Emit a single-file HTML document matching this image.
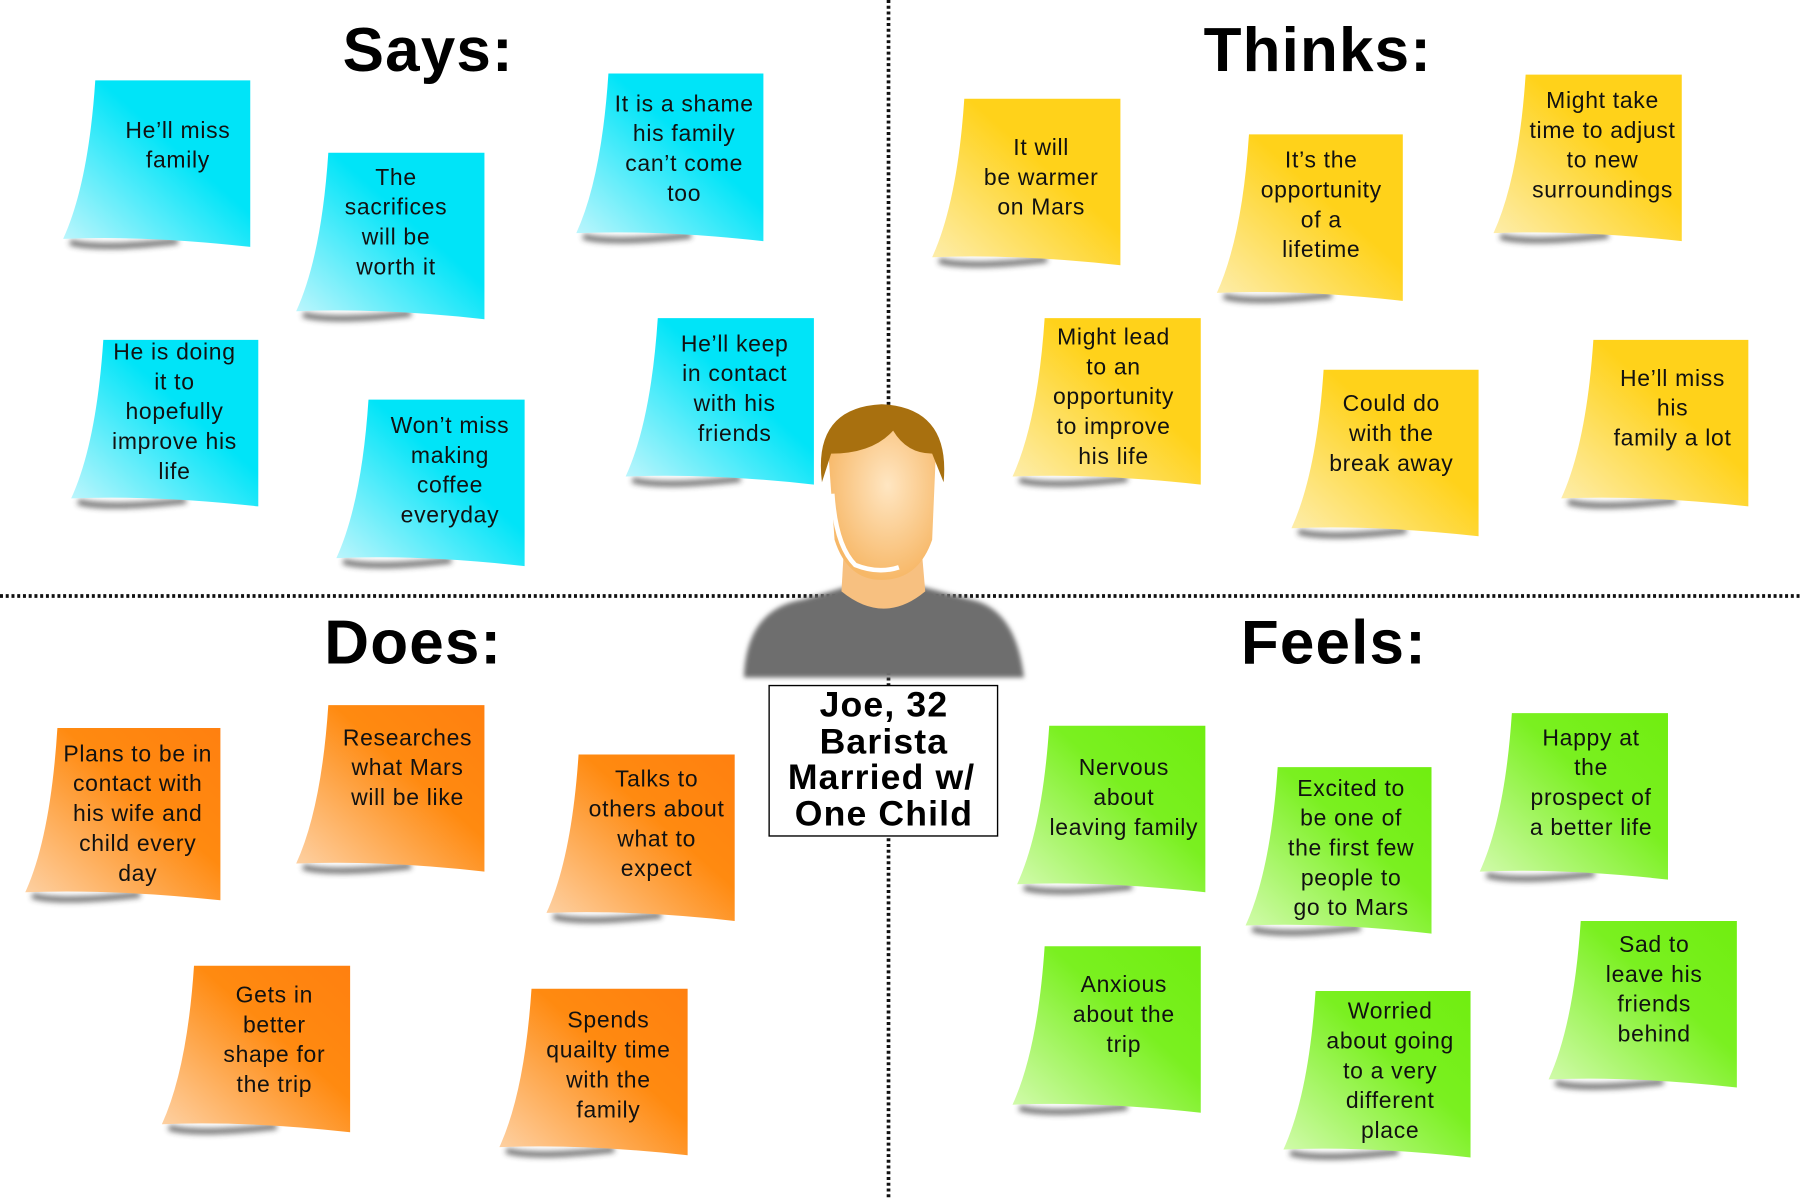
<!DOCTYPE html>
<html><head><meta charset="utf-8"><style>
html,body{margin:0;padding:0;background:#fff;}
svg{display:block}
text{font-family:"Liberation Sans",sans-serif;}
.n{font-size:20px;letter-spacing:0.6px;text-anchor:middle;fill:#111}
.h{font-size:54px;font-weight:bold;text-anchor:middle;fill:#000;letter-spacing:1px}
</style></head><body>
<svg width="1800" height="1200" viewBox="0 0 1568 1045" preserveAspectRatio="none" xmlns="http://www.w3.org/2000/svg">
<defs>
<linearGradient id="gc" x1="0" y1="1" x2="1" y2="0"><stop offset="0" stop-color="#c4f6fc"/><stop offset="0.6" stop-color="#00e4f8"/><stop offset="1" stop-color="#00e4f8"/></linearGradient>
<linearGradient id="gy" x1="0" y1="1" x2="1" y2="0"><stop offset="0" stop-color="#fdeeb0"/><stop offset="0.6" stop-color="#ffd21a"/><stop offset="1" stop-color="#ffd21a"/></linearGradient>
<linearGradient id="go" x1="0" y1="1" x2="1" y2="0"><stop offset="0" stop-color="#fdd3a8"/><stop offset="0.6" stop-color="#ff8a10"/><stop offset="1" stop-color="#ff8010"/></linearGradient>
<linearGradient id="gg" x1="0" y1="1" x2="1" y2="0"><stop offset="0" stop-color="#d4fbb0"/><stop offset="0.6" stop-color="#7af020"/><stop offset="1" stop-color="#70ee10"/></linearGradient>
<filter id="bl" x="-50%" y="-200%" width="200%" height="500%"><feGaussianBlur stdDeviation="2.5"/></filter>
<filter id="bl2"><feGaussianBlur stdDeviation="2"/></filter>
<radialGradient id="face" cx="0.55" cy="0.4" r="0.6"><stop offset="0" stop-color="#ffe6c2"/><stop offset="1" stop-color="#f7b868"/></radialGradient>
</defs>

<line x1="774" y1="0" x2="774" y2="1045" stroke="#111" stroke-width="3.2" stroke-dasharray="2.6,2.4"/>
<line x1="0" y1="519" x2="1568" y2="519" stroke="#111" stroke-width="3.2" stroke-dasharray="2.6,2.4"/>

<text class="h" x="373" y="62">Says:</text>
<text class="h" x="1148" y="62">Thinks:</text>
<text class="h" x="360" y="578">Does:</text>
<text class="h" x="1162" y="578">Feels:</text>

<g id="notes"></g>

<path d="M648,590 Q650,530 700,522 L740,510 L800,510 L845,522 Q885,530 892,590 Z" fill="#6e6e6e" filter="url(#bl2)"/>
<path d="M735,480 L733,515 Q770,545 806,515 L803,480 Z" fill="#f7c080"/>
<path d="M722,400 Q722,370 768,368 Q816,370 815,400 L812,470 Q800,505 768,505 Q738,505 727,470 Z" fill="url(#face)"/>
<path d="M716,420 Q708,355 768,352 Q828,355 822,420 L812,395 Q790,395 778,375 Q760,395 724,395 Z" fill="#a8700f"/>
<path d="M725,430 Q728,475 745,492 Q765,500 783,494" stroke="#fff" stroke-width="4" fill="none"/>
<rect x="670" y="597" width="199" height="131" fill="#fff" stroke="#000" stroke-width="1.2"/>
<g font-weight="bold" font-size="31" text-anchor="middle" letter-spacing="1">
<text x="770" y="624">Joe, 32</text>
<text x="770" y="656">Barista</text>
<text x="768" y="687">Married w/</text>
<text x="770" y="719">One Child</text>
</g>
</svg>
<script>
const N=[
["gc",55,70,218,215,155,113,["He’ll miss","family"]],
["gc",258,133,422,278,345,154,["The","sacrifices","will be","worth it"]],
["gc",502,64,665,210,596,90,["It is a shame","his family","can’t come","too"]],
["gc",62,296,225,441,152,306,["He is doing","it to","hopefully","improve his","life"]],
["gc",293,348,457,493,392,370,["Won’t miss","making","coffee","everyday"]],
["gc",545,277,709,422,640,299,["He’ll keep","in contact","with his","friends"]],
["gy",812,86,976,231,907,128,["It will","be warmer","on Mars"]],
["gy",1060,117,1222,262,1151,139,["It’s the","opportunity","of a","lifetime"]],
["gy",1301,65,1465,210,1396,87,["Might take","time to adjust","to new","surroundings"]],
["gy",882,277,1046,422,970,293,["Might lead","to an","opportunity","to improve","his life"]],
["gy",1125,322,1288,467,1212,351,["Could do","with the","break away"]],
["gy",1360,296,1523,441,1457,329,["He’ll miss","his","family a lot"]],
["go",22,634,192,784,120,656,["Plans to be in","contact with","his wife and","child every","day"]],
["go",258,614,422,759,355,642,["Researches","what Mars","will be like"]],
["go",476,657,640,802,572,678,["Talks to","others about","what to","expect"]],
["go",141,841,305,986,239,866,["Gets in","better","shape for","the trip"]],
["go",435,861,599,1006,530,888,["Spends","quailty time","with the","family"]],
["gg",886,632,1050,777,979,668,["Nervous","about","leaving family"]],
["gg",1085,668,1247,813,1177,686,["Excited to","be one of","the first few","people to","go to Mars"]],
["gg",1289,621,1453,766,1386,642,["Happy at","the","prospect of","a better life"]],
["gg",882,824,1046,969,979,857,["Anxious","about the","trip"]],
["gg",1118,863,1281,1008,1211,880,["Worried","about going","to a very","different","place"]],
["gg",1349,802,1513,947,1441,822,["Sad to","leave his","friends","behind"]]
];
let s="";
for(const [g,x0,y0,x1,y1,cx,ty,L] of N){
 const w=x1-x0;
 s+=`<path d="M${x0+6},${y1-4} Q${x0+30},${y1+3} ${x0+100},${y1-5}" stroke="#333" stroke-width="5" fill="none" opacity="0.7" filter="url(#bl)"/>`;
 s+=`<path d="M${x0+28},${y0} L${x1},${y0} L${x1},${y1} Q${x0+w*0.45},${y1-10} ${x0},${y1-7} Q${x0+22},${y1-55} ${x0+28},${y0} Z" fill="url(#${g})"/>`;
 L.forEach((t,i)=>{s+=`<text class="n" x="${cx}" y="${ty+7+i*26}">${t}</text>`;});
}
document.getElementById("notes").innerHTML=s;
</script>
</body></html>
